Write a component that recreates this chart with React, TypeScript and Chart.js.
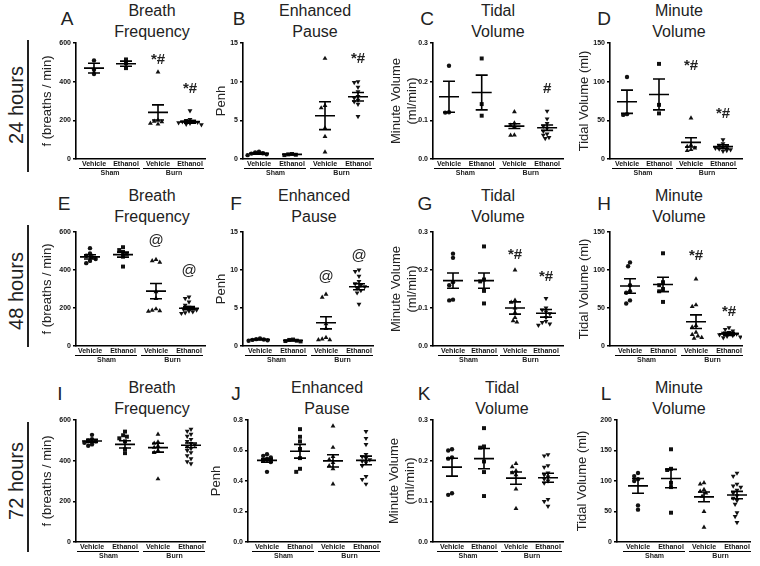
import React, { useEffect, useRef } from "react";
import { Chart, registerables } from "chart.js";
Chart.register(...registerables);

const FONT = "'Liberation Sans', Arial, Helvetica, sans-serif";

// ---------- labels ----------
const groupLabels = ["Vehicle", "Ethanol", "Vehicle", "Ethanol"];
const conditionLabels = ["Sham", "Burn"];
const rowLabels = ["24 hours", "48 hours", "72 hours"];
const panelTitles = [["Breath", "Frequency"], ["Enhanced", "Pause"], ["Tidal", "Volume"], ["Minute", "Volume"]];
const yTitles: (string | string[])[] = ["f (breaths / min)", "Penh", ["Minute Volume", "(ml/min)"], "Tidal Volume (ml)"];

// ---------- data (groups: Sham Vehicle, Sham Ethanol, Burn Vehicle, Burn Ethanol) ----------
// A: 24 h breath frequency
const aValues = [[510, 462, 440], [515, 495, 470], [450, 200, 192, 185, 180, 195], [250, 205, 200, 196, 193, 190, 188, 185, 180, 178]];
const aMean = [470, 493, 241, 192];
const aSem = [25, 13, 39, 7];
const aMarks = ["", "", "*#", "*#"];
const aMarkAt = [0, 0, 515, 362];
// B: 24 h Penh
const bValues = [[0.95, 0.85, 0.75, 0.7, 0.6, 0.5], [0.65, 0.6, 0.55, 0.5], [13.0, 6.9, 6.6, 4.0, 2.9, 0.9], [10.0, 9.9, 9.3, 8.7, 8.1, 7.9, 7.6, 7.4, 7.1, 5.5]];
const bMean = [0.73, 0.6, 5.6, 8.05];
const bSem = [0.1, 0.05, 1.8, 0.55];
const bMarks = ["", "", "", "*#"];
const bMarkAt = [0, 0, 0, 12.9];
// C: 24 h tidal volume
const cValues = [[0.241, 0.121, 0.12], [0.26, 0.142, 0.112], [0.122, 0.093, 0.087, 0.083, 0.062, 0.061], [0.124, 0.104, 0.092, 0.085, 0.08, 0.072, 0.065, 0.062, 0.056, 0.053]];
const cMean = [0.161, 0.172, 0.085, 0.081];
const cSem = [0.04, 0.045, 0.006, 0.007];
const cMarks = ["", "", "", "#"];
const cMarkAt = [0, 0, 0, 0.182];
// D: 24 h minute volume
const dValues = [[106, 58, 57], [123, 70, 59], [53, 18, 16, 14, 12, 11], [25, 20, 18, 16, 15, 14, 13, 12, 11, 10]];
const dMean = [74, 83.5, 21.5, 16];
const dSem = [15, 20, 6, 2.5];
const dMarks = ["", "", "*#", "*#"];
const dMarkAt = [0, 0, 120, 58];
// E: 48 h breath frequency
const eValues = [[515, 487, 475, 468, 458, 448, 436], [520, 505, 495, 485, 470, 418], [455, 448, 440, 285, 250, 195, 188, 185, 182], [258, 250, 232, 215, 205, 200, 195, 190, 185, 180, 175, 172]];
const eMean = [469, 481, 289, 199];
const eSem = [11, 13, 40, 8];
const eMarks = ["", "", "@", "@"];
const eMarkAt = [0, 0, 556, 394];
// F: 48 h Penh
const fValues = [[1.0, 0.9, 0.85, 0.8, 0.75, 0.7], [0.85, 0.8, 0.7, 0.65, 0.6], [6.8, 6.4, 2.9, 2.3, 1.1, 0.9, 0.8, 0.8], [10.0, 9.8, 9.2, 8.5, 8.2, 8.0, 7.8, 7.6, 7.3, 7.0, 5.5]];
const fMean = [0.85, 0.72, 3.05, 7.8];
const fSem = [0.06, 0.05, 0.8, 0.4];
const fMarks = ["", "", "@", "@"];
const fMarkAt = [0, 0, 9.1, 11.8];
// G: 48 h tidal volume
const gValues = [[0.243, 0.232, 0.168, 0.16, 0.122, 0.12], [0.262, 0.175, 0.17, 0.145, 0.112], [0.2, 0.12, 0.115, 0.1, 0.088, 0.075, 0.066, 0.063], [0.125, 0.1, 0.095, 0.09, 0.085, 0.075, 0.065, 0.062, 0.058, 0.055]];
const gMean = [0.172, 0.172, 0.1, 0.086];
const gSem = [0.02, 0.02, 0.016, 0.01];
const gMarks = ["", "", "*#", "*#"];
const gMarkAt = [0, 0, 0.239, 0.183];
// H: 48 h minute volume
const hValues = [[110, 105, 80, 72, 70, 60, 56], [122, 84, 80, 75, 72, 58], [88, 54, 52, 27, 25, 18, 15, 13, 11, 10], [24, 22, 20, 18, 17, 16, 15, 14, 13, 12, 11]];
const hMean = [79, 81, 32, 16];
const hSem = [9.5, 9.5, 9, 2];
const hMarks = ["", "", "*#", "*#"];
const hMarkAt = [0, 0, 118, 45];
// I: 72 h breath frequency
const iValues = [[527, 505, 500, 495, 488, 480, 473], [543, 525, 518, 510, 495, 456, 437], [530, 492, 485, 472, 465, 450, 440, 310], [555, 545, 530, 520, 505, 495, 485, 478, 470, 460, 450, 440, 425, 410, 395, 385]];
const iMean = [497, 480, 464, 476];
const iSem = [8, 18, 22, 11];
// J: 72 h Penh
const jValues = [[0.575, 0.565, 0.555, 0.545, 0.535, 0.525, 0.46], [0.74, 0.69, 0.66, 0.61, 0.55, 0.48, 0.46], [0.76, 0.62, 0.56, 0.54, 0.52, 0.5, 0.48, 0.38], [0.725, 0.68, 0.64, 0.575, 0.56, 0.55, 0.54, 0.53, 0.52, 0.5, 0.43, 0.41, 0.38]];
const jMean = [0.535, 0.595, 0.532, 0.535];
const jSem = [0.012, 0.045, 0.04, 0.028];
// K: 72 h tidal volume
const kValues = [[0.228, 0.225, 0.208, 0.205, 0.12, 0.116], [0.28, 0.235, 0.232, 0.198, 0.172, 0.113], [0.193, 0.185, 0.175, 0.17, 0.165, 0.13, 0.082], [0.215, 0.212, 0.188, 0.184, 0.17, 0.165, 0.16, 0.155, 0.15, 0.145, 0.105, 0.1, 0.088]];
const kMean = [0.184, 0.205, 0.157, 0.158];
const kSem = [0.022, 0.025, 0.015, 0.011];
// L: 72 h minute volume
const lValues = [[113, 108, 103, 100, 60, 53], [152, 120, 118, 97, 90, 48], [97, 95, 86, 83, 80, 75, 50, 24], [113, 108, 95, 92, 90, 85, 80, 76, 72, 68, 62, 48, 42, 32]];
const lMean = [92, 104, 74, 77];
const lSem = [12, 15, 8, 6];

const noMarks = ["", "", "", ""];
const noMarkAt = [0, 0, 0, 0];

// ---------- layout ----------
const rows = [
  { top: 43, bottom: 159, letterY: 19, titleY: 10, labelY: 105, lineTop: 40, lineBottom: 172 },
  { top: 232, bottom: 346, letterY: 204, titleY: 195, labelY: 291, lineTop: 225, lineBottom: 347 },
  { top: 420, bottom: 542, letterY: 394, titleY: 387, labelY: 481, lineTop: 422, lineBottom: 552 },
];

type PanelDef = {
  letter: string; row: number; col: number;
  values: number[][]; mean: number[]; sem: number[]; marks: string[]; markAt: number[];
  yMax: number; yStep: number; dec: number;
  axisX: number; c1: number; sp: number; right: number; yTitleX: number; letterX: number; titleX: number;
};

const panels: PanelDef[] = [
  { letter: "A", row: 0, col: 0, values: aValues, mean: aMean, sem: aSem, marks: aMarks, markAt: aMarkAt, yMax: 600, yStep: 200, dec: 0, axisX: 76, c1: 94, sp: 32, right: 205, yTitleX: 48, letterX: 67, titleX: 152 },
  { letter: "B", row: 0, col: 1, values: bValues, mean: bMean, sem: bSem, marks: bMarks, markAt: bMarkAt, yMax: 15, yStep: 5, dec: 0, axisX: 243, c1: 259, sp: 33, right: 373, yTitleX: 222, letterX: 239, titleX: 315 },
  { letter: "C", row: 0, col: 2, values: cValues, mean: cMean, sem: cSem, marks: cMarks, markAt: cMarkAt, yMax: 0.3, yStep: 0.1, dec: 1, axisX: 433, c1: 449, sp: 32.7, right: 563, yTitleX: 397, letterX: 427, titleX: 498 },
  { letter: "D", row: 0, col: 3, values: dValues, mean: dMean, sem: dSem, marks: dMarks, markAt: dMarkAt, yMax: 150, yStep: 50, dec: 0, axisX: 610, c1: 627, sp: 32, right: 742, yTitleX: 585, letterX: 604, titleX: 679 },
  { letter: "E", row: 1, col: 0, values: eValues, mean: eMean, sem: eSem, marks: eMarks, markAt: eMarkAt, yMax: 600, yStep: 200, dec: 0, axisX: 76, c1: 90, sp: 33, right: 205, yTitleX: 48, letterX: 64, titleX: 152 },
  { letter: "F", row: 1, col: 1, values: fValues, mean: fMean, sem: fSem, marks: fMarks, markAt: fMarkAt, yMax: 15, yStep: 5, dec: 0, axisX: 243, c1: 260, sp: 33, right: 373, yTitleX: 222, letterX: 236, titleX: 314 },
  { letter: "G", row: 1, col: 2, values: gValues, mean: gMean, sem: gSem, marks: gMarks, markAt: gMarkAt, yMax: 0.3, yStep: 0.1, dec: 1, axisX: 433, c1: 453, sp: 31, right: 563, yTitleX: 397, letterX: 425, titleX: 498 },
  { letter: "H", row: 1, col: 3, values: hValues, mean: hMean, sem: hSem, marks: hMarks, markAt: hMarkAt, yMax: 150, yStep: 50, dec: 0, axisX: 610, c1: 630, sp: 33, right: 742, yTitleX: 585, letterX: 604, titleX: 679 },
  { letter: "I", row: 2, col: 0, values: iValues, mean: iMean, sem: iSem, marks: noMarks, markAt: noMarkAt, yMax: 600, yStep: 200, dec: 0, axisX: 76, c1: 92, sp: 33, right: 205, yTitleX: 48, letterX: 60, titleX: 152 },
  { letter: "J", row: 2, col: 1, values: jValues, mean: jMean, sem: jSem, marks: noMarks, markAt: noMarkAt, yMax: 0.8, yStep: 0.2, dec: 1, axisX: 248, c1: 267, sp: 33, right: 380, yTitleX: 217, letterX: 236, titleX: 327 },
  { letter: "K", row: 2, col: 2, values: kValues, mean: kMean, sem: kSem, marks: noMarks, markAt: noMarkAt, yMax: 0.3, yStep: 0.1, dec: 1, axisX: 433, c1: 452, sp: 32, right: 563, yTitleX: 395, letterX: 424, titleX: 502 },
  { letter: "L", row: 2, col: 3, values: lValues, mean: lMean, sem: lSem, marks: noMarks, markAt: noMarkAt, yMax: 200, yStep: 50, dec: 0, axisX: 617, c1: 638, sp: 33, right: 750, yTitleX: 583, letterX: 606, titleX: 679 },
];

const pointStyles = ["circle", "rect", "triangle", "triangle"];
const pointRotations = [0, 0, 0, 180];
const pointRadii = [2.2, 2.8, 2.8, 2.8];

// deterministic beeswarm layout (pixel offsets) so dots do not pile up
function swarmOffsets(vals: number[], yMax: number, plotH: number, d: number): number[] {
  const idx = vals.map((_, i) => i).sort((a, b) => vals[b] - vals[a]);
  const placed: { x: number; y: number }[] = [];
  const out = vals.map(() => 0);
  for (const i of idx) {
    const y = (vals[i] / yMax) * plotH;
    for (let k = 0; k < 80; k++) {
      const step = Math.ceil(k / 2) * (k % 2 === 1 ? -1 : 1);
      const dx = step * d * 0.5;
      if (placed.every((p) => (p.x - dx) ** 2 + (p.y - y) ** 2 >= d * d)) {
        placed.push({ x: dx, y });
        out[i] = dx;
        break;
      }
    }
  }
  return out;
}

const PT = 8, PR = 4, XH = 24;

function Panel({ p }: { p: PanelDef }) {
  const ref = useRef<HTMLCanvasElement>(null);
  const r = rows[p.row];
  const left = Math.round(p.yTitleX - 7.8);
  const YW = p.axisX - left;
  const plotH = r.bottom - r.top;
  const W = YW + (p.right - p.axisX) + PR;
  const H = PT + plotH + XH;
  const top = r.top - PT;
  const xMin = 1 - (p.c1 - p.axisX) / p.sp;
  const xMax = xMin + (p.right - p.axisX) / p.sp;

  useEffect(() => {
    const datasets = p.values.map((vals, g) => {
      const offs = swarmOffsets(vals, p.yMax, plotH, 3.8);
      return {
        type: "scatter" as const,
        data: vals.map((v, i) => ({ x: g + 1 + offs[i] / p.sp, y: v })),
        pointStyle: pointStyles[g] as any,
        rotation: pointRotations[g],
        pointRadius: pointRadii[g],
        backgroundColor: "#111",
        borderColor: "#111",
        borderWidth: 0,
        showLine: false,
      };
    });
    const extras = {
      id: "extras" + p.letter,
      afterDraw(chart: any) {
        const { ctx, chartArea } = chart;
        const x = chart.scales.x, y = chart.scales.y;
        ctx.save();
        ctx.strokeStyle = "#000";
        ctx.lineWidth = 1.6;
        p.mean.forEach((m, g) => {
          const cx = x.getPixelForValue(g + 1);
          const ym = y.getPixelForValue(m);
          const yh = y.getPixelForValue(m + p.sem[g]);
          const yl = y.getPixelForValue(m - p.sem[g]);
          ctx.beginPath();
          ctx.moveTo(cx - 10, ym); ctx.lineTo(cx + 10, ym);
          ctx.moveTo(cx - 6, yh); ctx.lineTo(cx + 6, yh);
          ctx.moveTo(cx - 6, yl); ctx.lineTo(cx + 6, yl);
          ctx.moveTo(cx, yh); ctx.lineTo(cx, yl);
          ctx.stroke();
        });
        ctx.fillStyle = "#222";
        ctx.textAlign = "center";
        ctx.textBaseline = "middle";
        p.marks.forEach((t, g) => {
          if (!t) return;
          ctx.font = t === "@" ? `15px ${FONT}` : `bold 15px ${FONT}`;
          ctx.fillText(t, x.getPixelForValue(g + 1), y.getPixelForValue(p.markAt[g]));
        });
        const b = chartArea.bottom;
        ctx.lineWidth = 1.2;
        ctx.font = `bold 7px ${FONT}`;
        ctx.textBaseline = "top";
        conditionLabels.forEach((lab, k) => {
          const x1 = x.getPixelForValue(2 * k + 1);
          const x2 = x.getPixelForValue(2 * k + 2);
          ctx.beginPath();
          ctx.moveTo(x1 - 15, b + 9.5);
          ctx.lineTo(x2 + 14, b + 9.5);
          ctx.stroke();
          ctx.fillText(lab, (x1 + x2) / 2, b + 11);
        });
        ctx.restore();
      },
    };
    const chart = new Chart(ref.current!, {
      type: "scatter",
      data: { datasets },
      plugins: [extras],
      options: {
        animation: false,
        responsive: false,
        layout: { padding: { left: 0, top: PT, right: PR, bottom: 0 } },
        plugins: { legend: { display: false }, tooltip: { enabled: false } },
        scales: {
          x: {
            type: "linear",
            min: xMin,
            max: xMax,
            afterFit: (s: any) => { s.height = XH; },
            afterBuildTicks: (s: any) => { s.ticks = [1, 2, 3, 4].map((v) => ({ value: v })); },
            ticks: {
              font: { size: 7, weight: "bold", family: FONT },
              color: "#111",
              padding: 1,
              maxRotation: 0,
              autoSkip: false,
              callback: (v: any) => groupLabels[Math.round(Number(v)) - 1] ?? "",
            },
            grid: { display: false, drawTicks: false },
            border: { display: true, color: "#000", width: 1.6 },
          },
          y: {
            type: "linear",
            min: 0,
            max: p.yMax,
            afterFit: (s: any) => { s.width = YW; },
            ticks: {
              stepSize: p.yStep,
              font: { size: 7, weight: "bold", family: FONT },
              color: "#111",
              padding: 2,
              callback: (v: any) => Number(v).toFixed(p.dec),
            },
            grid: { drawOnChartArea: false, drawTicks: true, tickLength: 3, color: "#000", lineWidth: 1.4 },
            border: { display: true, color: "#000", width: 1.6 },
            title: { display: true, text: yTitles[p.col] as any, font: { size: 13, family: FONT }, color: "#222", padding: 0 },
          },
        },
      } as any,
    });
    return () => chart.destroy();
  }, []);

  return (
    <canvas
      ref={ref}
      width={W}
      height={H}
      style={{ position: "absolute", left, top, width: W, height: H }}
    />
  );
}

export default function App() {
  return (
    <div style={{ position: "absolute", left: 0, top: 0, width: 760, height: 566, background: "#fff", overflow: "hidden", fontFamily: FONT, color: "#222" }}>
      {rows.map((r, i) => (
        <React.Fragment key={"row" + i}>
          <div style={{ position: "absolute", left: 16, top: r.labelY, transform: "translate(-50%,-50%) rotate(-90deg)", fontSize: 20, whiteSpace: "nowrap", lineHeight: "22px" }}>
            {rowLabels[i]}
          </div>
          <div style={{ position: "absolute", left: 27, top: r.lineTop, width: 1.5, height: r.lineBottom - r.lineTop, background: "#222" }} />
        </React.Fragment>
      ))}
      {panels.map((p) => {
        const r = rows[p.row];
        return (
          <React.Fragment key={p.letter}>
            <div style={{ position: "absolute", left: p.letterX, top: r.letterY, transform: "translate(-50%,-50%)", fontSize: 19, lineHeight: "22px" }}>
              {p.letter}
            </div>
            <div style={{ position: "absolute", left: p.titleX, top: r.titleY - 10.5, transform: "translateX(-50%)", fontSize: 16, lineHeight: "21px", textAlign: "center", whiteSpace: "nowrap" }}>
              {panelTitles[p.col].map((t, k) => (<div key={k}>{t}</div>))}
            </div>
            <Panel p={p} />
          </React.Fragment>
        );
      })}
    </div>
  );
}
